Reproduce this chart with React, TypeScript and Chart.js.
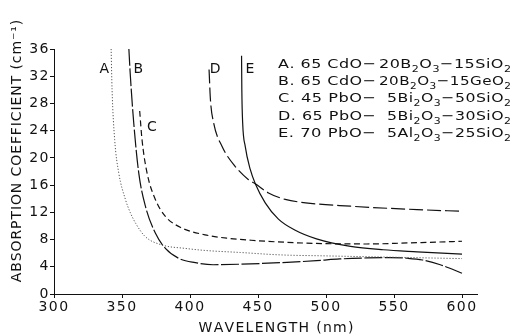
import React, { useEffect, useRef } from "react";
import { Chart, registerables } from "chart.js";

Chart.register(...registerables);

// ---- Data ----
const xTickValues = [300, 350, 400, 450, 500, 550, 600];
const yTickValues = [0, 4, 8, 12, 16, 20, 24, 28, 32, 36];

const curveA_nm = [342, 342.7, 344.6, 347.6, 352.5, 356, 360, 367, 379.4, 396.5, 411, 437, 466, 500, 550, 600];
const curveA_abs = [36, 30, 22.7, 17.8, 13.9, 12, 10.4, 8.45, 7.2, 6.7, 6.4, 6.1, 5.75, 5.6, 5.4, 5.2];

const curveB_nm = [355, 356, 358.6, 362.3, 367.2, 374.5, 381.9, 391.6, 403.9, 417, 437, 466, 493, 510, 530, 547, 560, 571, 584, 600];
const curveB_abs = [36.2, 32.5, 25.2, 17.8, 12.9, 8.95, 6.7, 5.25, 4.6, 4.3, 4.38, 4.6, 4.9, 5.15, 5.3, 5.35, 5.25, 5.0, 4.3, 3.05];

const curveC_nm = [363, 364.7, 368.4, 374.5, 381.9, 394, 411, 427, 445, 470, 500, 530, 560, 600];
const curveC_abs = [26.9, 22.7, 17.8, 13.9, 11.4, 9.7, 8.7, 8.2, 7.9, 7.6, 7.4, 7.35, 7.5, 7.75];

const curveD_nm = [414, 415, 417.3, 423.5, 433, 443, 448, 457.7, 470, 485, 518, 545, 567, 600];
const curveD_abs = [33, 28.6, 25.2, 21.7, 18.8, 16.8, 16.2, 14.85, 13.9, 13.4, 12.9, 12.6, 12.4, 12.15];

const curveE_nm = [437.9, 438.1, 438.7, 440.6, 444.3, 448, 455.3, 465, 477, 493, 518, 542, 567, 600];
const curveE_abs = [35, 30, 25.2, 21.7, 18.3, 16.2, 13.4, 11.0, 9.4, 8.1, 7.0, 6.5, 6.2, 5.85];

// curve letter labels (placed at data coordinates)
const curveLetters = ["A", "B", "C", "D", "E"];
const letter_nm = [337, 362, 372, 418.5, 444];
const letter_abs = [33, 33, 24.5, 33, 33];

// legend text ("_" marks a subscript character)
const legendLeft = ["A. 65 CdO\u2212", "B. 65 CdO\u2212", "C. 45 PbO\u2212", "D. 65 PbO\u2212", "E. 70 PbO\u2212"];
const legendRight = ["20B_2O_3\u221215SiO_2", "20B_2O_3\u221215GeO_2", "5Bi_2O_3\u221250SiO_2", "5Bi_2O_3\u221230SiO_2", "5Al_2O_3\u221225SiO_2"];
const legendRightIndent = [0, 0, 8, 8, 8];

const xTitle = "WAVELENGTH (nm)";
const yTitle = "ABSORPTION COEFFICIENT (cm\u207B\u00B9)";

const FONT = '"DejaVu Sans", "Liberation Sans", sans-serif';

function toPoints(xs: number[], ys: number[]) {
  return xs.map((x, i) => ({ x, y: ys[i] }));
}

function parseRich(text: string) {
  const out: { ch: string; sub: boolean }[] = [];
  for (let i = 0; i < text.length; i++) {
    if (text[i] === "_") {
      out.push({ ch: text[i + 1], sub: true });
      i++;
    } else out.push({ ch: text[i], sub: false });
  }
  return out;
}

// draws text with subscripts, horizontally stretched to span x0..x1
function drawRichFit(ctx: CanvasRenderingContext2D, text: string, x0: number, x1: number, y: number, size: number) {
  const glyphs = parseRich(text);
  const subSize = Math.round(size * 0.72);
  const gap = 0.4;
  let natural = 0;
  const widths = glyphs.map((g) => {
    ctx.font = `${g.sub ? subSize : size}px ${FONT}`;
    const w = ctx.measureText(g.ch).width;
    natural += w + gap;
    return w;
  });
  natural -= gap;
  const sx = (x1 - x0) / natural;
  ctx.save();
  ctx.translate(x0, y);
  ctx.scale(sx, 1);
  let cx = 0;
  glyphs.forEach((g, i) => {
    ctx.font = `${g.sub ? subSize : size}px ${FONT}`;
    ctx.fillText(g.ch, cx, g.sub ? size * 0.32 : 0);
    cx += widths[i] + gap;
  });
  ctx.restore();
}

function drawSpaced(ctx: CanvasRenderingContext2D, text: string, cx: number, cy: number, spacing: number) {
  let w = 0;
  for (const ch of text) w += ctx.measureText(ch).width + spacing;
  w -= spacing;
  let x = cx - w / 2;
  ctx.textAlign = "left";
  for (const ch of text) {
    ctx.fillText(ch, x, cy);
    x += ctx.measureText(ch).width + spacing;
  }
}

const annotationPlugin = {
  id: "annotations",
  beforeLayout(chart: any) {
    (chart.ctx as any).letterSpacing = "1.5px";
  },
  beforeDraw(chart: any) {
    (chart.ctx as any).letterSpacing = "1.5px";
  },
  afterDraw(chart: any) {
    const ctx: CanvasRenderingContext2D = chart.ctx;
    const xs = chart.scales.x;
    const ys = chart.scales.y;
    ctx.save();
    (ctx as any).letterSpacing = "0px";
    ctx.fillStyle = "#111";
    ctx.textBaseline = "middle";

    // curve letters
    ctx.font = `14px ${FONT}`;
    ctx.textAlign = "center";
    curveLetters.forEach((l, i) => {
      ctx.fillText(l, xs.getPixelForValue(letter_nm[i]), ys.getPixelForValue(letter_abs[i]));
    });

    // legend
    ctx.textBaseline = "alphabetic";
    ctx.textAlign = "left";
    const ca = chart.chartArea;
    const leftX0 = ca.left + 224;
    const leftX1 = ca.left + 322;
    const rightX0 = ca.left + 325;
    const rightX1 = ca.left + 457;
    const top = ca.top + 18.5;
    const step = 17.4;
    legendLeft.forEach((t, i) => {
      const y = top + i * step;
      drawRichFit(ctx, t, leftX0, leftX1, y, 13);
      drawRichFit(ctx, legendRight[i], rightX0 + legendRightIndent[i], rightX1, y, 13);
    });

    // axis titles
    ctx.textBaseline = "middle";
    ctx.font = `14px ${FONT}`;
    drawSpaced(ctx, xTitle, 276, 328, 1.3);

    ctx.translate(17, 151);
    ctx.rotate(-Math.PI / 2);
    drawSpaced(ctx, yTitle, 0, 0, 0.9);
    ctx.restore();
  },
};

export default function App() {
  const canvasRef = useRef<HTMLCanvasElement | null>(null);

  useEffect(() => {
    document.body.style.margin = "0";
    const canvas = canvasRef.current;
    if (!canvas) return;

    const mk = (label: string, xs: number[], ys: number[], dash: number[], color: string, width: number) => ({
      label,
      data: toPoints(xs, ys),
      borderColor: color,
      borderWidth: width,
      borderDash: dash,
      pointRadius: 0,
      fill: false,
      cubicInterpolationMode: "monotone",
      showLine: true,
    });

    const chart = new Chart(canvas, {
      type: "scatter",
      data: {
        datasets: [
          mk("A", curveA_nm, curveA_abs, [1.2, 1.8], "#555", 1),
          mk("B", curveB_nm, curveB_abs, [18, 2.5], "#111", 1.2),
          mk("C", curveC_nm, curveC_abs, [6, 3.5], "#111", 1.2),
          mk("D", curveD_nm, curveD_abs, [14, 4], "#111", 1.2),
          mk("E", curveE_nm, curveE_abs, [], "#111", 1.2),
        ],
      },
      options: {
        animation: false,
        responsive: false,
        devicePixelRatio: 1,
        layout: { padding: { left: 0, top: 49, right: 46, bottom: 0 } },
        plugins: { legend: { display: false }, tooltip: { enabled: false }, title: { display: false } },
        scales: {
          x: {
            type: "linear",
            min: 300,
            max: 611,
            afterBuildTicks: (s: any) => {
              s.ticks = xTickValues.map((v) => ({ value: v }));
            },
            afterFit: (s: any) => {
              s.height = 41;
            },
            grid: { drawOnChartArea: false, drawTicks: true, tickLength: 4, color: "#111" },
            border: { display: true, color: "#111", width: 1 },
            ticks: { color: "#111", font: { family: FONT, size: 14 }, padding: 1, maxRotation: 0 },
          },
          y: {
            type: "linear",
            min: 0,
            max: 36,
            afterBuildTicks: (s: any) => {
              s.ticks = yTickValues.map((v) => ({ value: v }));
            },
            afterFit: (s: any) => {
              s.width = 54;
            },
            grid: { drawOnChartArea: false, drawTicks: true, tickLength: 4, color: "#111" },
            border: { display: true, color: "#111", width: 1 },
            ticks: { color: "#111", font: { family: FONT, size: 14 }, padding: 0 },
          },
        },
      },
      plugins: [annotationPlugin],
    } as any);

    return () => chart.destroy();
  }, []);

  return (
    <div style={{ width: 523, height: 335, background: "#fff" }}>
      <canvas ref={canvasRef} width={523} height={335} />
    </div>
  );
}
